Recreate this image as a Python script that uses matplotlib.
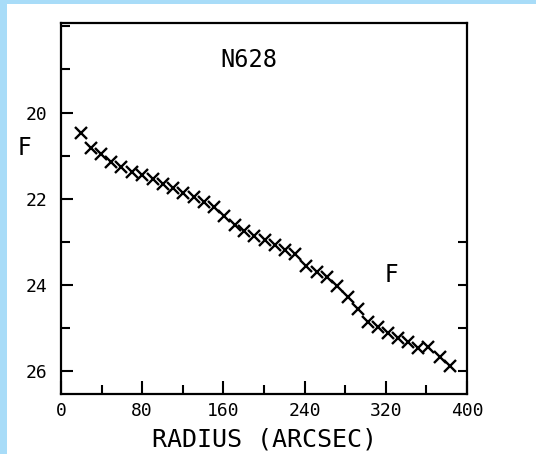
import numpy as np
from matplotlib import pyplot as plt
from matplotlib.patches import Rectangle
from matplotlib.ticker import MultipleLocator

# surface brightness profile of N628
radius = [19.5, 29.6, 39.4, 49.2, 58.9, 69.7, 80.1, 90.2, 100.3, 110.4,
          120.5, 130.6, 140.7, 150.8, 160.9, 171.0, 180.5, 190.2, 200.7, 210.8,
          220.9, 231.0, 241.8, 251.9, 261.9, 272.0, 282.5, 292.3, 302.5, 312.3,
          322.2, 332.0, 342.0, 352.0, 362.0, 373.0, 383.0]
mag = [20.47, 20.82, 20.97, 21.15, 21.26, 21.38, 21.45, 21.55, 21.65, 21.76,
       21.87, 21.97, 22.07, 22.20, 22.41, 22.61, 22.75, 22.87, 22.96, 23.08,
       23.18, 23.29, 23.57, 23.70, 23.81, 24.03, 24.29, 24.55, 24.86, 24.97,
       25.11, 25.23, 25.32, 25.47, 25.43, 25.67, 25.89]

xTicks = [0, 80, 160, 240, 320, 400]
yTicks = [20, 22, 24, 26]
rightTicks = [23, 24, 25, 26]

galaxyName = 'N628'
bandName = 'F'
xLabel = 'RADIUS (ARCSEC)'

monoFont = 'DejaVu Sans Mono'

fig = plt.figure(figsize=(5.36, 4.54), dpi=100)
fig.patch.set_facecolor('white')

# light blue frame on the left and top edge
borderCol = '#a8dcf8'
fig.patches.append(Rectangle((0, 0), 7 / 536., 1, transform=fig.transFigure,
                             facecolor=borderCol, edgecolor='none', zorder=0))
fig.patches.append(Rectangle((0, 1 - 4 / 454.), 1, 4 / 454., transform=fig.transFigure,
                             facecolor=borderCol, edgecolor='none', zorder=0))

ax = fig.add_axes([61 / 536., 1 - 394 / 454., 406 / 536., 370.7 / 454.])
ax.plot(radius, mag, linestyle='none', marker='x', color='black',
        markersize=8, markeredgewidth=1.7)

ax.set_xlim(0, 400)
ax.set_ylim(26.53, 17.93)

ax.set_xticks(xTicks)
ax.xaxis.set_minor_locator(MultipleLocator(40))
ax.set_yticks(yTicks)
ax.yaxis.set_minor_locator(MultipleLocator(1))

ax.tick_params(which='both', direction='in', top=False, right=False, width=1.5,
               color='black')
ax.tick_params(axis='x', which='major', length=9.5, pad=6)
ax.tick_params(axis='x', which='minor', length=6.5)
ax.tick_params(axis='y', which='major', length=8.5, pad=10)
ax.tick_params(axis='y', which='minor', length=6.5)

for lab in ax.get_xticklabels() + ax.get_yticklabels():
    lab.set_fontfamily(monoFont)
    lab.set_fontsize(13)

for side in ['left', 'right', 'top', 'bottom']:
    ax.spines[side].set_linewidth(1.6)

secAx = ax.secondary_yaxis('right')
secAx.set_yticks(rightTicks)
secAx.tick_params(direction='in', length=6.5, width=1.5, labelright=False)
secAx.spines['right'].set_visible(False)

ax.set_xlabel(xLabel, fontfamily=monoFont, fontsize=18, labelpad=5)

ax.text(185, 18.79, galaxyName, fontfamily=monoFont, fontsize=17,
        ha='center', va='center')
ax.text(-36.5, 20.83, bandName, fontsize=17, ha='center', va='center',
        clip_on=False)
ax.text(325.8, 23.77, bandName, fontsize=17, ha='center', va='center')

fig.savefig('out.png', dpi=100)
